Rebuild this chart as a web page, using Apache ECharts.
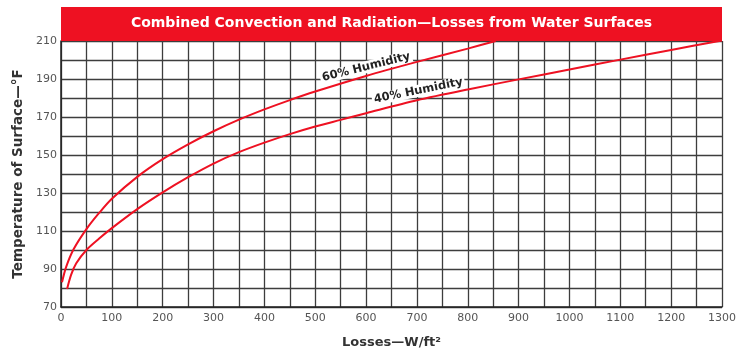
<!DOCTYPE html>
<html>
<head>
<meta charset="utf-8">
<script src="https://cdn.jsdelivr.net/npm/echarts@6/dist/echarts.min.js"></script>
<style>html,body{margin:0;padding:0;background:#fff;}#c{width:739px;height:354px;}</style>
</head>
<body>
<div id="c"></div>
<script>
var chartTitle = 'Combined Convection and Radiation\u2014Losses from Water Surfaces';
var xName = 'Losses\u2014W/ft\u00b2';
var yName = 'Temperature of Surface\u2014\u00b0F';
var seriesNames = ['60% Humidity', '40% Humidity'];

var x60 = [2, 10, 25, 50, 75, 100, 150, 200, 250, 300, 350, 400, 450, 500, 600, 700, 800, 855];
var t60 = [83, 91, 100.5, 111, 119.5, 127, 138.5, 147.8, 155.6, 162.5, 168.6, 174, 178.9, 183.4, 191.6, 199, 206, 210];

var x40 = [12, 20, 30, 50, 75, 100, 150, 200, 250, 300, 350, 400, 450, 500, 550, 600, 700, 800, 900, 1000, 1100, 1200, 1300];
var t40 = [79.5, 87, 93, 100, 106, 111.5, 121.5, 130.3, 138.3, 145.5, 151.5, 156.5, 161, 165, 168.5, 172, 178.8, 184.5, 189.8, 195, 200.2, 205.3, 210.3];

var xTickLabels = [0, 100, 200, 300, 400, 500, 600, 700, 800, 900, 1000, 1100, 1200, 1300];
var yTickLabels = [70, 90, 110, 130, 150, 170, 190, 210];

// label anchors in data coordinates [x, y, rotation]
var labelAnchor60 = [600, 196.2, 14];
var labelAnchor40 = [703, 183.8, 11.5];

function pairs(xs, ys) { return xs.map(function (x, i) { return [x, ys[i]]; }); }

var chart = echarts.init(document.getElementById('c'));
var gridColor = '#3d3d3d';
var red = '#ee1122';
var fam = '"DejaVu Sans"';

chart.setOption({
  animation: false,
  grid: { left: 61, right: 15, top: 41, bottom: 43 },
  xAxis: {
    type: 'value', min: 0, max: 1300, interval: 50,
    name: xName, nameLocation: 'middle', nameGap: 29,
    nameTextStyle: { fontFamily: 'DejaVu Sans', fontWeight: 'bold', fontSize: 13, color: '#333' },
    axisLine: { show: true, lineStyle: { color: '#222', width: 1.5 } },
    axisTick: { show: false },
    axisLabel: {
      margin: 6, fontFamily: 'DejaVu Sans', fontSize: 11, color: '#555',
      formatter: function (v) { return xTickLabels.indexOf(v) >= 0 ? String(v) : ''; }
    },
    splitLine: { show: true, lineStyle: { color: gridColor, width: 1.3 } }
  },
  yAxis: {
    type: 'value', min: 70, max: 210, interval: 10,
    name: yName, nameLocation: 'middle', nameGap: 36,
    nameTextStyle: { fontFamily: 'DejaVu Sans', fontWeight: 'bold', fontSize: 13.5, color: '#333' },
    axisLine: { show: true, lineStyle: { color: '#222', width: 1.5 } },
    axisTick: { show: false },
    axisLabel: {
      margin: 4, fontFamily: 'DejaVu Sans', fontSize: 11, color: '#555',
      formatter: function (v) { return yTickLabels.indexOf(v) >= 0 ? String(v) : ''; }
    },
    splitLine: { show: true, lineStyle: { color: gridColor, width: 1.3 } }
  },
  series: [
    { name: seriesNames[0], type: 'line', smooth: 0.3, symbol: 'none', clip: true,
      lineStyle: { color: red, width: 2 }, data: pairs(x60, t60), z: 5 },
    { name: seriesNames[1], type: 'line', smooth: 0.3, symbol: 'none', clip: true,
      lineStyle: { color: red, width: 2 }, data: pairs(x40, t40), z: 5 }
  ]
});

function drawGraphics() {
  var p0 = chart.convertToPixel({ gridIndex: 0 }, [0, 210]);
  var p1 = chart.convertToPixel({ gridIndex: 0 }, [1300, 210]);
  var l60 = chart.convertToPixel({ gridIndex: 0 }, [labelAnchor60[0], labelAnchor60[1]]);
  var l40 = chart.convertToPixel({ gridIndex: 0 }, [labelAnchor40[0], labelAnchor40[1]]);
  var bandH = 34;
  function lab(txt, p, rot) {
    return {
      type: 'text', x: p[0], y: p[1], rotation: rot * Math.PI / 180, z: 20,
      style: {
        text: txt, fill: '#222', font: 'bold 11.5px ' + fam,
        align: 'center', verticalAlign: 'middle',
        backgroundColor: '#fff', padding: [0, 2, 0, 2]
      }
    };
  }
  chart.setOption({
    graphic: [
      { type: 'rect', shape: { x: p0[0], y: p0[1] - bandH, width: p1[0] - p0[0], height: bandH }, style: { fill: red }, z: 10 },
      { type: 'text', x: (p0[0] + p1[0]) / 2, y: p0[1] - bandH / 2 - 1, z: 11,
        style: { text: chartTitle, fill: '#fff', font: 'bold 14px ' + fam, align: 'center', verticalAlign: 'middle' } },
      lab(seriesNames[0], l60, labelAnchor60[2]),
      lab(seriesNames[1], l40, labelAnchor40[2])
    ]
  });
}
drawGraphics();
</script>
</body>
</html>
